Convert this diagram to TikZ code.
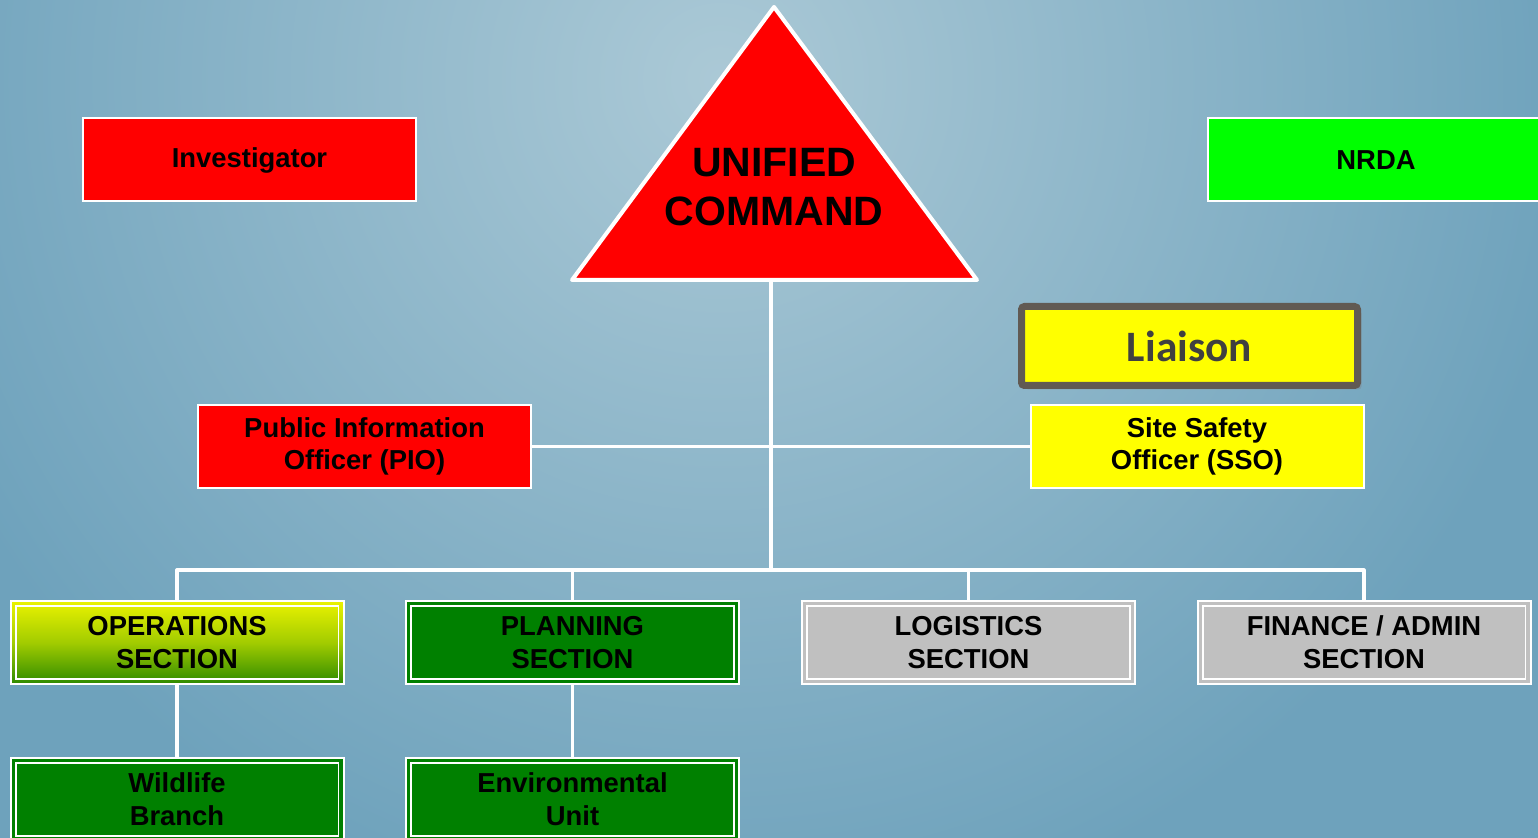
\documentclass[tikz,border=0pt]{standalone}
\usepackage{fontspec}
\setmainfont{Liberation Sans}
\newfontfamily\liaisonfont{Carlito}
\usetikzlibrary{positioning,shadows}

\definecolor{bgmid}{HTML}{ABC9D6}
\definecolor{bgedge}{HTML}{6EA2BC}
\definecolor{boxred}{HTML}{FF0000}
\definecolor{boxlime}{HTML}{00FF00}
\definecolor{boxyellow}{HTML}{FFFF00}
\definecolor{boxgreen}{HTML}{008000}
\definecolor{boxgrey}{HTML}{C0C0C0}
\definecolor{opstop}{HTML}{EAF200}
\definecolor{opsmid}{HTML}{A2CC00}
\definecolor{opsbottom}{HTML}{2E8A00}
\definecolor{liaisonrim}{HTML}{615A53}
\definecolor{liaisontext}{HTML}{404040}

\begin{document}
\begin{tikzpicture}[x=0.5pt,y=-0.5pt,align=center,
		box/.style={draw=white,line width=1pt,minimum width=166.5pt,minimum height=41.5pt,inner sep=0pt,
			font=\fontsize{13.7}{16.4}\selectfont\bfseries},
		secbox/.style={box,path picture={\draw[white,line width=0.8pt]
			([shift={(2.6pt,2.6pt)}]path picture bounding box.south west) rectangle
			([shift={(-2.6pt,-2.6pt)}]path picture bounding box.north east);}},
		link/.style={draw=white,line width=1.6pt}]
		\useasboundingbox (0,0) rectangle (1538,838);
		% background
		\fill[bgedge] (0,0) rectangle (1538,838);
		\begin{scope}
			\clip (0,0) rectangle (1538,838);
			\shade[inner color=bgmid,outer color=bgedge] (720,80) circle (860);
		\end{scope}
		% command triangle
		\coordinate (uctop) at (774,7);
		\coordinate (ucleft) at (572,280);
		\coordinate (ucright) at (977,280);
		\coordinate (ucbase) at (771,280);
		\filldraw[fill=boxred,draw=white,line width=2pt,line join=round] (uctop) -- (ucright) -- (ucleft) -- cycle;
		\node[font=\fontsize{20.5}{24.5}\selectfont\bfseries] (uc) at (774,187) {UNIFIED\\COMMAND};
		% staff
		\node[box,fill=boxred] (inv) at (249.5,160) {Investigator};
		\node[box,fill=boxlime,minimum width=168.5pt] (nrda) at (1376,160) {NRDA};
		\node[box,fill=boxred] (pio) at (364.5,446.5) {Public Information\\Officer (PIO)};
		\node[box,fill=boxyellow] (sso) at (1197,446.5) {Site Safety\\Officer (SSO)};
		\node[draw=liaisonrim,line width=3.5pt,rounded corners=1.5pt,fill=boxyellow,minimum width=168pt,minimum height=39.5pt,
			drop shadow={shadow xshift=2pt,shadow yshift=-2pt,opacity=0.35},
			text=liaisontext,font=\liaisonfont\fontsize{21.7}{26}\selectfont\bfseries] (liaison) at (1189.5,346) {Liaison};
		% sections
		\node[secbox,top color=opstop,bottom color=opsbottom,middle color=opsmid] (ops) at (177,642.5) {OPERATIONS\\SECTION};
		\node[secbox,fill=boxgreen] (plan) at (572.5,642.5) {PLANNING\\SECTION};
		\node[secbox,fill=boxgrey] (log) at (968.5,642.5) {LOGISTICS\\SECTION};
		\node[secbox,fill=boxgrey] (fin) at (1364,642.5) {FINANCE / ADMIN\\SECTION};
		\node[secbox,fill=boxgreen] (wild) at (177,799.5) {Wildlife\\Branch};
		\node[secbox,fill=boxgreen] (env) at (572.5,799.5) {Environmental\\Unit};
		% connectors
		\coordinate (bar) at (771,570);
		\draw[link] (ucbase) -- (bar);
		\draw[link] (pio.east) -- (sso.west);
		\draw[link,line join=round] (ops.north) |- (bar) -| (fin.north);
		\draw[link] (plan.north) -- (plan.north |- bar);
		\draw[link] (log.north) -- (log.north |- bar);
		\draw[link] (ops.south) -- (wild.north);
		\draw[link] (plan.south) -- (env.north);
	\end{tikzpicture}
\end{document}
